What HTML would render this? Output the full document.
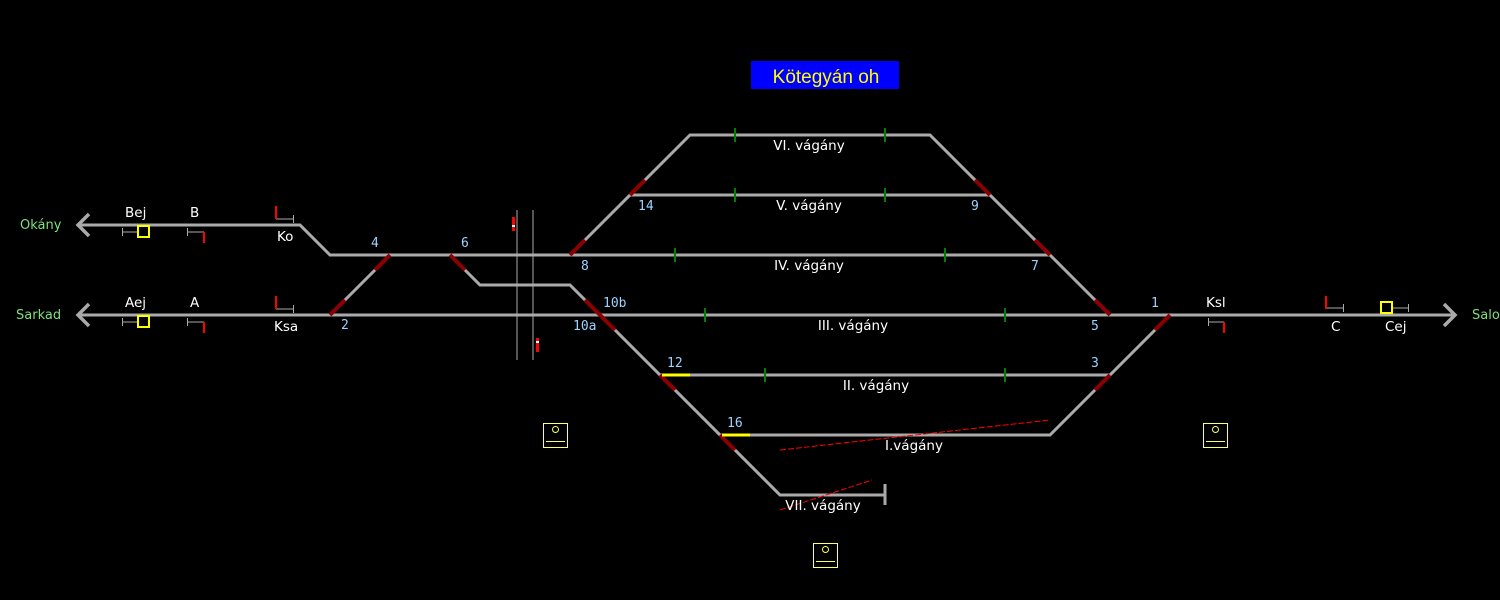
<!DOCTYPE html>
<html><head><meta charset="utf-8"><style>
html,body{margin:0;padding:0;background:#000;width:1500px;height:600px;overflow:hidden}
svg{display:block}
text{font-family:"DejaVu Sans","Liberation Sans",sans-serif;font-size:13.5px;fill:#fff}
.n{fill:#9cd3ff;font-family:"DejaVu Sans Mono","Liberation Mono",monospace;font-size:13px}
.g{fill:#7de07d;font-size:13px}
</style></head><body>
<svg width="1500" height="600" xmlns="http://www.w3.org/2000/svg">
<rect x="751" y="61" width="148" height="28" fill="#0000ff"/>
<text x="826" y="83" text-anchor="middle" style="font-family:'Liberation Sans',sans-serif;font-size:19px;fill:#ffff00">Kötegyán oh</text>
<g stroke="#aaa" stroke-width="3" fill="none">
<polyline points="80,225 300,225 330,255 1050,255 1110,315"/>
<line x1="80" y1="315" x2="1455" y2="315"/>
<line x1="330" y1="315" x2="390" y2="255"/>
<polyline points="450,255 480,285 570,285 780,495 885,495"/>
<line x1="885" y1="484" x2="885" y2="505"/>
<polyline points="570,255 690,135 930,135 1050,255"/>
<line x1="630" y1="195" x2="990" y2="195"/>
<polyline points="1170,315 1050,435 720,435"/>
<line x1="660" y1="375" x2="1110" y2="375"/>
</g>
<g stroke="#aaa" stroke-width="3.5" fill="none">
<polyline points="89,214 78,225 89,236"/><polyline points="89,304 78,315 89,326"/>
<polyline points="1444,304 1455,315 1444,326"/>
</g>
<g stroke="#8b0000" stroke-width="4">
<line x1="570" y1="255" x2="585" y2="240"/><line x1="630" y1="195" x2="645" y2="180"/>
<line x1="975" y1="180" x2="990" y2="195"/><line x1="1035" y1="240" x2="1050" y2="255"/>
<line x1="1095" y1="300" x2="1110" y2="315"/><line x1="1155" y1="330" x2="1170" y2="315"/>
<line x1="1095" y1="390" x2="1110" y2="375"/><line x1="660" y1="375" x2="675" y2="390"/>
<line x1="720" y1="435" x2="735" y2="450"/><line x1="585" y1="300" x2="615" y2="330"/>
<line x1="450" y1="255" x2="465" y2="270"/><line x1="375" y1="270" x2="390" y2="255"/>
<line x1="330" y1="315" x2="345" y2="300"/>
</g>
<g stroke="#ffff00" stroke-width="3"><line x1="662" y1="375" x2="690" y2="375"/><line x1="722" y1="435" x2="750" y2="435"/></g>
<g stroke="#008000" stroke-width="2">
<line x1="735" y1="128" x2="735" y2="142"/><line x1="885" y1="128" x2="885" y2="142"/>
<line x1="735" y1="188" x2="735" y2="202"/><line x1="885" y1="188" x2="885" y2="202"/>
<line x1="675" y1="248" x2="675" y2="262"/><line x1="945" y1="248" x2="945" y2="262"/>
<line x1="705" y1="308" x2="705" y2="322"/><line x1="1005" y1="308" x2="1005" y2="322"/>
<line x1="765" y1="368" x2="765" y2="382"/><line x1="1005" y1="368" x2="1005" y2="382"/>
</g>
<g stroke="#aaa" stroke-width="1"><line x1="517" y1="210" x2="517" y2="360"/><line x1="533" y1="210" x2="533" y2="360"/></g>
<rect x="512" y="217" width="3" height="14" fill="#f00"/><rect x="512" y="225" width="3" height="2" fill="#fff"/>
<rect x="536" y="338" width="3" height="14" fill="#f00"/><rect x="536" y="341" width="3" height="2" fill="#fff"/>
<g stroke="#f00" stroke-width="1" stroke-dasharray="6,2"><line x1="780" y1="450" x2="1050" y2="420"/><line x1="780" y1="510" x2="872" y2="480"/></g>
<g fill="none" stroke="#ffff66" stroke-width="1">
<rect x="543.5" y="423.5" width="24" height="24"/><circle cx="555.5" cy="429.5" r="3"/><line x1="546" y1="441.5" x2="565" y2="441.5"/>
<rect x="1203.5" y="423.5" width="24" height="24"/><circle cx="1215.5" cy="429.5" r="3"/><line x1="1206" y1="441.5" x2="1225" y2="441.5"/>
<rect x="813.5" y="543.5" width="24" height="24"/><circle cx="825.5" cy="549.5" r="3"/><line x1="816" y1="561.5" x2="835" y2="561.5"/>
</g>
<g stroke="#aaa" stroke-width="1" fill="none">
<path d="M122.5 228v8M122 232h15M187.5 228v8M187 232h17M293.5 215v8M276 219h17"/>
<path d="M122.5 318v8M122 322h15M187.5 318v8M187 322h17M293.5 305v8M276 309h17"/>
<path d="M1208.5 318v8M1208 322h16M1343.5 304v8M1326 308h17M1392 308h16M1408.5 304v8"/>
</g>
<g stroke="#f00" stroke-width="2">
<line x1="204" y1="232" x2="204" y2="243"/><line x1="276" y1="206" x2="276" y2="219"/>
<line x1="204" y1="322" x2="204" y2="333"/><line x1="276" y1="296" x2="276" y2="309"/>
<line x1="1224" y1="322" x2="1224" y2="333"/><line x1="1326" y1="296" x2="1326" y2="309"/>
</g>
<g fill="none" stroke="#ffff00" stroke-width="2">
<rect x="138" y="226" width="11" height="11"/><rect x="138" y="316" width="11" height="11"/><rect x="1381" y="302" width="11" height="11"/>
</g>
<text class="g" x="20" y="229">Okány</text><text class="g" x="16" y="319">Sarkad</text><text class="g" x="1472" y="319">Salonta</text>
<text x="125" y="217">Bej</text><text x="190" y="217">B</text><text x="277" y="241">Ko</text>
<text x="125" y="307">Aej</text><text x="190" y="307">A</text><text x="274" y="331">Ksa</text>
<text x="1206" y="307">Ksl</text><text x="1331" y="331">C</text><text x="1385" y="331">Cej</text>
<text class="n" x="371" y="247">4</text><text class="n" x="461" y="247">6</text><text class="n" x="341" y="329">2</text>
<text class="n" x="581" y="270">8</text><text class="n" x="638" y="210">14</text><text class="n" x="971" y="210">9</text>
<text class="n" x="1031" y="270">7</text><text class="n" x="1091" y="330">5</text><text class="n" x="1151" y="307">1</text>
<text class="n" x="1091" y="367">3</text><text class="n" x="603" y="307">10b</text><text class="n" x="573" y="330">10a</text>
<text class="n" x="667" y="367">12</text><text class="n" x="727" y="427">16</text>
<text x="809" y="150" text-anchor="middle">VI. vágány</text>
<text x="809" y="210" text-anchor="middle">V. vágány</text>
<text x="809" y="270" text-anchor="middle">IV. vágány</text>
<text x="853" y="330" text-anchor="middle">III. vágány</text>
<text x="876" y="390" text-anchor="middle">II. vágány</text>
<text x="914" y="450" text-anchor="middle">I.vágány</text>
<text x="823" y="510" text-anchor="middle">VII. vágány</text>
</svg>
</body></html>
